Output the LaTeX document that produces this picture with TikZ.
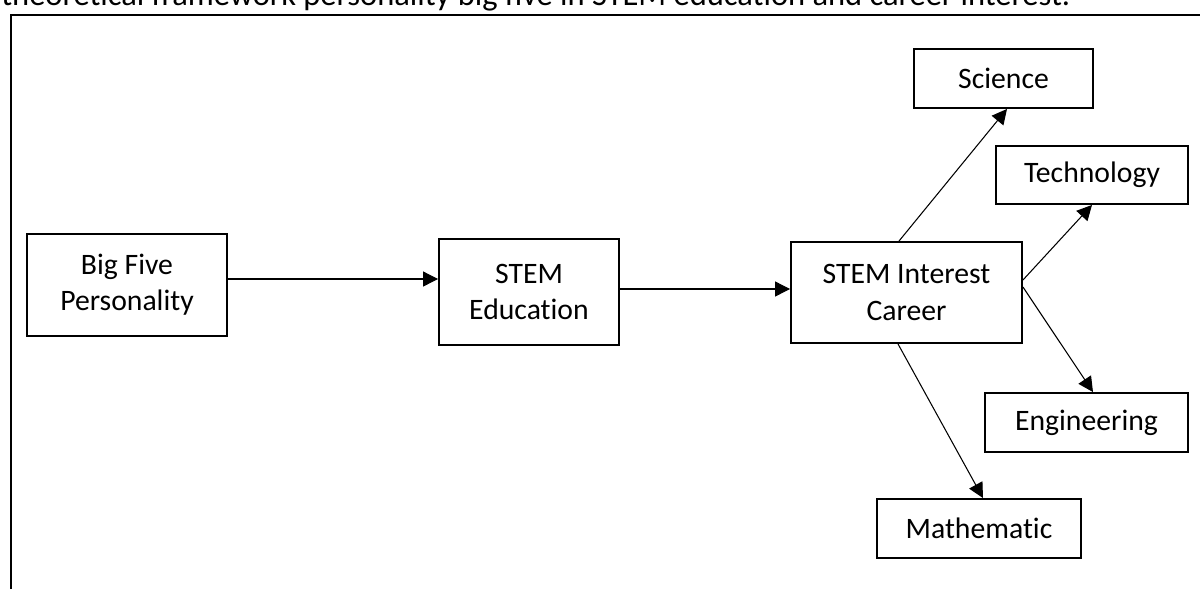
\documentclass[tikz,border=0pt]{standalone}
\usepackage{fontspec}
\setmainfont{Carlito}[Ligatures=NoCommon]
\usetikzlibrary{arrows.meta}
\begin{document}
\begin{tikzpicture}[x=0.02cm,y=-0.02cm,
        box/.style={draw,line width=1.1pt,align=center,inner sep=0pt,font=\fontsize{16.9}{20.6}\selectfont},
        arr/.style={-{Triangle[length=3mm,width=3mm]},line width=0.6pt}]
        \useasboundingbox (0,0) rectangle (1200,589);
        \clip (0,0) rectangle (1200,589);

        \node[anchor=base west,inner sep=0pt,font=\fontsize{18.5}{22}\selectfont] (title) at (1,5) {theoretical framework personality big five in STEM education and career interest.}; %caption
        \draw[line width=1.1pt] (11,589) -- (11,15) -- (1200,15); %frame

        \node[box,minimum width=4cm,minimum height=2.04cm] (big) at (127,285) {Big Five\\Personality}; %big five
        \node[box,minimum width=3.6cm,minimum height=2.12cm] (edu) at (529,292) {STEM\\Education}; %education
        \node[box,minimum width=4.62cm,minimum height=2.02cm] (career) at (906.5,292.5) {STEM Interest\\Career}; %career

        \node[box,minimum width=3.58cm,minimum height=1.18cm] (sci) at (1003.5,78.5) {Science}; %S
        \node[box,minimum width=3.84cm,minimum height=1.16cm] (tech) at (1092,175) {Technology}; %T
        \node[box,minimum width=4.06cm,minimum height=1.18cm] (eng) at (1086.5,422.5) {Engineering}; %E
        \node[box,minimum width=4.08cm,minimum height=1.18cm] (math) at (979,528.5) {Mathematic}; %M

        \coordinate (a1) at ([yshift=1.2mm]big.east);
        \coordinate (a2) at ([yshift=0.6mm]edu.east);
        \draw[arr] (a1) -- (a1 -| edu.west);
        \draw[arr] (a2) -- (a2 -| career.west);

        \draw[arr] ([xshift=-1.5mm]career.north) -- ([xshift=0.7mm]sci.south);
        \draw[arr] ([yshift=2.5mm]career.east) -- (tech.south);
        \draw[arr] ([yshift=1.1mm]career.east) -- ([xshift=1.3mm]eng.north);
        \draw[arr] ([xshift=-1.7mm]career.south) -- ([xshift=0.8mm]math.north);
    \end{tikzpicture}
\end{document}
